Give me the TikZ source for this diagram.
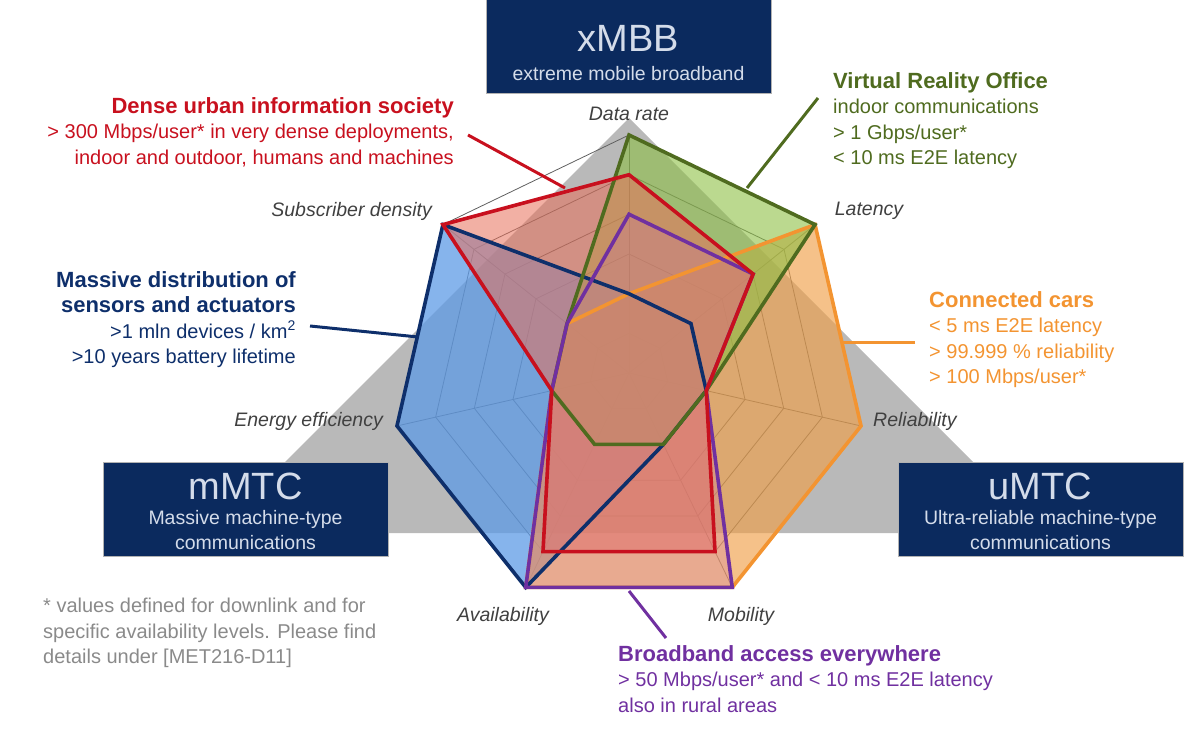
\documentclass[tikz,border=0pt]{standalone}
\usepackage{fontspec}
\setmainfont{Liberation Sans}
\usetikzlibrary{calc}
\definecolor{navy}{HTML}{0B2A5E}
\definecolor{boxtxt}{HTML}{D4DCEA}
\definecolor{cred}{HTML}{C8101E}
\definecolor{cgreen}{HTML}{4F6B1F}
\definecolor{corange}{HTML}{F39431}
\definecolor{cpurple}{HTML}{7030A0}
\definecolor{cnavy}{HTML}{0E2F6B}
\definecolor{axistxt}{HTML}{404040}
\definecolor{foot}{HTML}{8A8A8A}
\definecolor{fblue}{HTML}{5E9BE6}
\definecolor{forange}{HTML}{EFA04A}
\definecolor{fgreen}{HTML}{8DBF45}
\definecolor{fred}{HTML}{E8705A}
\newcommand\hdfont{\fontsize{22}{25.5}\selectfont\bfseries}
\tikzset{
 box/.style={fill=navy,draw=gray!60,line width=1pt,minimum width=285pt,minimum height=94pt,inner sep=0pt},
 axl/.style={font=\fontsize{19.5}{22}\selectfont\itshape,text=axistxt,inner sep=0pt},
 grid/.style={draw=gray!75!black,line width=0.8pt},
 ser/.style={line width=3.6pt,line join=miter},
 txt/.style={font=\fontsize{20}{25.5}\selectfont,inner sep=0pt},
 lead/.style={line width=3pt}
}
\begin{document}
\begin{tikzpicture}[x=1pt,y=-1pt]
\useasboundingbox (0,0) rectangle (1200,743);
% gray triangle
\fill[gray!55] (629,118) -- (1044,533) -- (214,533) -- cycle;
\coordinate (c) at (629,373);
\foreach \k in {0,...,6}{
  \coordinate (s\k) at ({629+238*cos(90-\k*51.4286)},{373-238*sin(90-\k*51.4286)});
}
% grid
\foreach \l in {0.1667,0.3333,0.5,0.6667,0.8333,1}{
  \draw[grid] ($(c)!\l!(s0)$) \foreach \k in {1,...,6}{ -- ($(c)!\l!(s\k)$)} -- cycle;
}
\foreach \k in {0,...,6}{ \draw[grid] (c) -- (s\k); }
% series: order DR, Lat, Rel, Mob, Av, En, Sub
\newcommand\serpath[7]{($(c)!#1!(s0)$) -- ($(c)!#2!(s1)$) -- ($(c)!#3!(s2)$) -- ($(c)!#4!(s3)$) -- ($(c)!#5!(s4)$) -- ($(c)!#6!(s5)$) -- ($(c)!#7!(s6)$) -- cycle}
\fill[fill=fblue,fill opacity=0.75] \serpath{0.333}{0.333}{0.333}{0.333}{1}{1}{1};
\fill[fill=forange,fill opacity=0.65] \serpath{0.333}{1}{1}{1}{1}{0.333}{0.333};
\fill[fill=fgreen,fill opacity=0.6] \serpath{1}{1}{0.333}{0.333}{0.333}{0.333}{0.333};
\fill[fill=fred,fill opacity=0.55] \serpath{0.833}{0.667}{0.333}{0.833}{0.833}{0.333}{1};
\fill[fill=cpurple!60!red!60,fill opacity=0.3] \serpath{0.667}{0.667}{0.333}{1}{1}{0.333}{0.333};
\draw[ser,draw=corange] \serpath{0.333}{1}{1}{1}{1}{0.333}{0.333};
\draw[ser,draw=cnavy] \serpath{0.333}{0.333}{0.333}{0.333}{1}{1}{1};
\draw[ser,draw=cgreen] \serpath{1}{1}{0.333}{0.333}{0.333}{0.333}{0.333};
\draw[ser,draw=cpurple] \serpath{0.667}{0.667}{0.333}{1}{1}{0.333}{0.333};
\draw[ser,draw=cred] \serpath{0.833}{0.667}{0.333}{0.833}{0.833}{0.333}{1};
% boxes
\node[box] (xmbb) at (628.5,47) {};
\node[font=\fontsize{38}{38}\selectfont,text=boxtxt] (xmbbt) at (628.5,38) {xMBB};
\node[font=\fontsize{19.5}{19.5}\selectfont,text=boxtxt] (xmbbs) at (628.5,74) {extreme mobile broadband};
\node[box] (mmtc) at (245.5,509) {};
\node[font=\fontsize{38}{38}\selectfont,text=boxtxt] at (245.5,486) {mMTC};
\node[font=\fontsize{19.5}{25}\selectfont,text=boxtxt,align=center] at (245.5,530) {Massive machine-type\\communications};
\node[box] (umtc) at (1040.5,509) {};
\node[font=\fontsize{38}{38}\selectfont,text=boxtxt] at (1040.5,486) {uMTC};
\node[font=\fontsize{19.5}{25}\selectfont,text=boxtxt,align=center] at (1040.5,530) {Ultra-reliable machine-type\\communications};
% axis labels
\node[axl] (ldr) at (629,114) {Data rate};
\node[axl] (llat) at (869,211) {Latency};
\node[axl,anchor=east] (lsub) at (432,211) {Subscriber density};
\node[axl,anchor=east] (lene) at (383,421) {Energy efficiency};
\node[axl,anchor=west] (lrel) at (873,421) {Reliability};
\node[axl] (lav) at (503,616) {Availability};
\node[axl] (lmob) at (741,616) {Mobility};
% labels
\node[txt,text=cred,align=right,anchor=north east] (dense) at (454,97) {{\hdfont Dense urban information society}\\> 300 Mbps/user* in very dense deployments,\\indoor and outdoor, humans and machines};
\node[txt,text=cnavy,align=right,anchor=north east] (massive) at (296,271) {{\hdfont Massive distribution of}\\{\hdfont sensors and actuators}\\>1 mln devices / km\textsuperscript{2}\\>10 years battery lifetime};
\node[txt,text=cgreen,align=left,anchor=north west] (vro) at (833,72) {{\hdfont Virtual Reality Office}\\indoor communications\\> 1 Gbps/user*\\< 10 ms E2E latency};
\node[txt,text=corange,align=left,anchor=north west] (cars) at (929,291) {{\hdfont Connected cars}\\< 5 ms E2E latency\\> 99.999 \% reliability\\> 100 Mbps/user*};
\node[txt,text=cpurple,align=left,anchor=north west] (bb) at (618,645) {{\hdfont Broadband access everywhere}\\> 50 Mbps/user* and < 10 ms E2E latency\\also in rural areas};
\node[txt,text=foot,align=left,anchor=north west] (fn) at (43,598) {* values defined for downlink and for\\specific availability levels. Please find\\details under [MET216-D11]};
% leaders
\coordinate (rl) at (565,188);
\coordinate (gl) at (747,188);
\coordinate (nl) at (418,337);
\coordinate (ol) at (843,343);
\coordinate (pl) at (629,591);
\draw[lead,cred] (468,135) -- (rl);
\draw[lead,cgreen] (818,98) -- (gl);
\draw[lead,cnavy] (310,326) -- (nl);
\draw[lead,corange] (915,343) -- (ol);
\draw[lead,cpurple] (666,638) -- (pl);
\end{tikzpicture}
\end{document}
